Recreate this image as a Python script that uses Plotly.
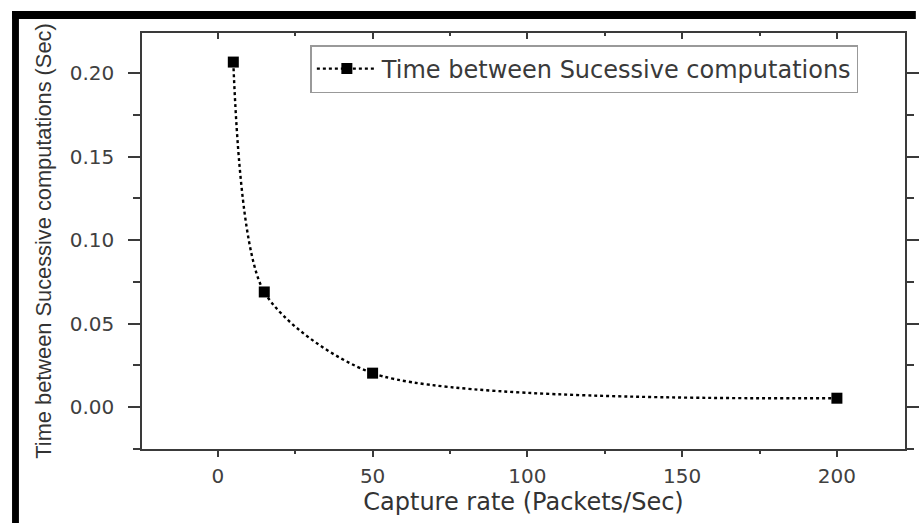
import plotly.graph_objects as go

capture_rate = [5, 15, 50, 200]
time_between = [0.2066, 0.069, 0.0204, 0.0054]
series_name = "Time between Sucessive computations"
x_title = "Capture rate (Packets/Sec)"
y_title = "Time between Sucessive computations (Sec)"
x_ticks = [0, 50, 100, 150, 200]
y_ticks = [0.00, 0.05, 0.10, 0.15, 0.20]
x_minor = [-25, 25, 75, 125, 175]
y_minor = [-0.025, 0.025, 0.075, 0.125, 0.175]

W, H = 923, 523
L, R, T, B = 142, 6, 33, 74
pw, ph = W - L - R, H - T - B

def px(x):
    return (x - L) / pw

def py(y):
    return (H - B - y) / ph

WIDE = "DejaVu Sans, Verdana, sans-serif"
ARIAL = "Liberation Sans, Arial, sans-serif"
AX = "#3a3a3a"
TXT = "#404040"

fig = go.Figure()
fig.add_trace(go.Scatter(
    x=capture_rate, y=time_between, name=series_name,
    mode="lines+markers",
    line=dict(color="black", width=2.4, dash="dot", shape="spline", smoothing=0.75),
    marker=dict(symbol="square", size=11, color="black"),
))
fig.add_trace(go.Scatter(x=[capture_rate[0]], y=[time_between[0]], xaxis="x2", yaxis="y2",
                         mode="markers", marker=dict(opacity=0), showlegend=False, hoverinfo="skip"))

xr = [-24.5, 222]
yr = [-0.025, 0.224]

fig.update_layout(
    width=W, height=H,
    margin=dict(l=L, r=R, t=T, b=B),
    paper_bgcolor="white", plot_bgcolor="white",
    font=dict(family=WIDE, color=TXT),
    showlegend=True,
    legend=dict(x=px(313), y=py(45), xanchor="left", yanchor="top",
                bordercolor="#999999", borderwidth=1.5, bgcolor="white",
                font=dict(size=24, color="#3a3a3a", family=WIDE), itemwidth=60,
                tracegroupgap=0),
    xaxis=dict(range=xr, tickvals=x_ticks, ticks="outside", ticklen=6, tickwidth=1.5,
               tickcolor=AX, showline=True, linecolor=AX, linewidth=1.5,
               showgrid=False, zeroline=False, tickfont=dict(size=20, color=TXT, family=WIDE),
               minor=dict(tickvals=x_minor, ticks="outside", ticklen=3, tickcolor=AX, tickwidth=1.5),
               title=dict(text=x_title, font=dict(size=24, color="#333333", family=WIDE), standoff=3),
               ticklabelstandoff=2),
    yaxis=dict(range=yr, tickvals=y_ticks, tickformat=".2f", ticks="outside", ticklen=12, tickwidth=1.5,
               tickcolor=AX, showline=True, linecolor=AX, linewidth=1.5,
               showgrid=False, zeroline=False, tickfont=dict(size=20, color=TXT, family=WIDE),
               minor=dict(tickvals=y_minor, ticks="outside", ticklen=7, tickcolor=AX, tickwidth=1.5),
               title=dict(text=y_title, font=dict(size=21.8, color="#333333", family=ARIAL), standoff=12),
               ticklabelstandoff=10),
    xaxis2=dict(range=xr, overlaying="x", side="top", anchor="y", tickvals=x_ticks, ticks="inside",
                ticklen=6, tickwidth=1.5, tickcolor=AX, showline=True, linecolor=AX, linewidth=1.5,
                showticklabels=False, showgrid=False, zeroline=False,
                minor=dict(tickvals=x_minor, ticks="inside", ticklen=3, tickcolor=AX, tickwidth=1.5)),
    yaxis2=dict(range=yr, overlaying="y", side="right", anchor="x", tickvals=y_ticks, ticks="outside",
                ticklen=12, tickwidth=1.5, tickcolor=AX, showline=True, linecolor=AX, linewidth=1.5,
                showticklabels=False, showgrid=False, zeroline=False,
                minor=dict(tickvals=y_minor, ticks="outside", ticklen=7, tickcolor=AX, tickwidth=1.5)),
    shapes=[
        dict(type="rect", xref="paper", yref="paper", x0=px(10), x1=px(W + 5), y0=py(19), y1=py(11),
             fillcolor="black", line=dict(width=0), layer="above"),
        dict(type="rect", xref="paper", yref="paper", x0=px(10), x1=px(17), y0=py(H + 5), y1=py(11),
             fillcolor="black", line=dict(width=0), layer="above"),
    ],
)

fig.write_html("out.html")
